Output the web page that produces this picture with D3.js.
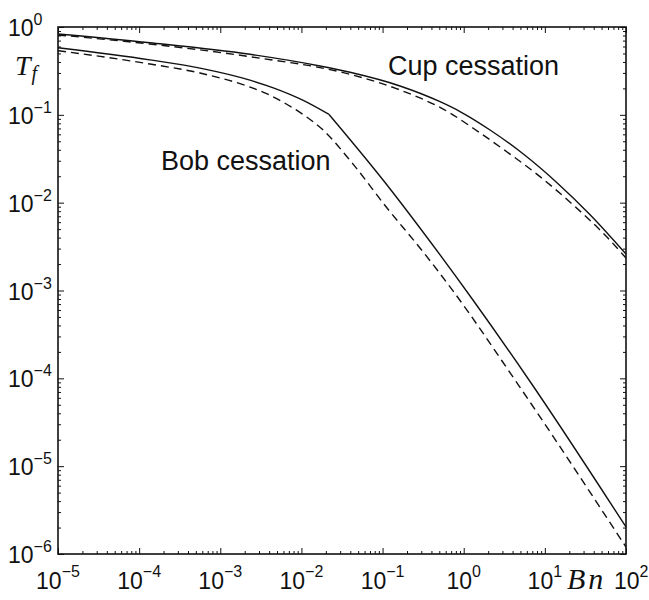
<!DOCTYPE html>
<html>
<head>
<meta charset="utf-8">
<script src="https://cdn.jsdelivr.net/npm/d3@7"></script>
<style>
  body { margin: 0; background: #fff; }
  svg { display: block; }
</style>
</head>
<body>
<div id="chart"></div>
<script>
// cessation time T_f against Bingham number, log-log
var width = 649;
var height = 600;

var xDecades = [1e-5, 1e-4, 1e-3, 1e-2, 1e-1, 1, 10, 100];
var yDecades = [1e-6, 1e-5, 1e-4, 1e-3, 1e-2, 1e-1, 1];

// Cup cessation
var cupSolidBn = [1e-5, 1.36e-4, 2.32e-3, 0.0169, 0.0397, 0.164, 0.511, 0.90, 2.11, 5.43, 14.0, 36.1, 100];
var cupSolidT  = [0.832, 0.662, 0.489, 0.360, 0.305, 0.213, 0.141, 0.109, 0.0672, 0.0358, 0.0170, 7.29e-3, 2.60e-3];
var cupDashBn  = [1e-5, 1.36e-4, 2.32e-3, 0.0397, 0.164, 0.678, 1.31, 3.39, 8.71, 22.4, 57.8, 100];
var cupDashT   = [0.811, 0.640, 0.459, 0.289, 0.192, 0.105, 0.0703, 0.038, 0.0198, 9.40e-3, 4.09e-3, 2.34e-3];

// Bob cessation (solid one has a kink at Bn ~ 0.022)
var bobSolidBn = [1e-5, 1.36e-4, 5.62e-4, 2.32e-3, 4.50e-3, 0.01054, 0.0219, 0.1135, 0.289, 1.30, 6.38, 100];
var bobSolidT  = [0.581, 0.423, 0.340, 0.248, 0.203, 0.146, 0.101, 0.0159, 5.15e-3, 7.80e-4, 9.57e-5, 2.03e-6];
var bobKink = 6;
var bobDashBn  = [1e-5, 1.36e-4, 5.62e-4, 2.32e-3, 3.73e-3, 6.59e-3, 0.01107, 0.0178, 0.0433, 0.1135, 0.289, 0.738, 4.29, 100];
var bobDashT   = [0.537, 0.379, 0.299, 0.207, 0.174, 0.132, 0.0975, 0.0693, 0.0275, 8.69e-3, 3.05e-3, 9.9e-4, 9.57e-5, 1.20e-6];

var margin = {left: 58, top: 27, right: 23, bottom: 46};
var iw = width - margin.left - margin.right;
var ih = height - margin.top - margin.bottom;

var x = d3.scaleLog().domain([1e-5, 100]).range([margin.left, margin.left + iw]);
var y = d3.scaleLog().domain([1e-6, 1]).range([margin.top + ih, margin.top]);

var svg = d3.select('#chart').append('svg')
  .attr('width', width)
  .attr('height', height)
  .style('background', '#fff');

var minorX = x.ticks().filter(d => xDecades.indexOf(d) < 0);
var minorY = y.ticks().filter(d => yDecades.indexOf(d) < 0);

function addAxis(gen, scale, vals, size, tx) {
  var g = svg.append('g')
    .attr('transform', tx)
    .call(gen(scale).tickValues(vals).tickSize(-size).tickFormat(''));
  g.select('.domain').remove();
  g.selectAll('line').attr('stroke', '#111').attr('stroke-width', 1);
}

var bottomT = `translate(0,${margin.top + ih})`;
var topT = `translate(0,${margin.top})`;
var leftT = `translate(${margin.left},0)`;
var rightT = `translate(${margin.left + iw},0)`;

addAxis(d3.axisBottom, x, minorX, 3, bottomT);
addAxis(d3.axisBottom, x, xDecades, 6, bottomT);
addAxis(d3.axisTop, x, minorX, 3, topT);
addAxis(d3.axisTop, x, xDecades, 6, topT);
addAxis(d3.axisLeft, y, minorY, 3, leftT);
addAxis(d3.axisLeft, y, yDecades, 6, leftT);
addAxis(d3.axisRight, y, minorY, 3, rightT);
addAxis(d3.axisRight, y, yDecades, 6, rightT);

svg.append('rect')
  .attr('x', margin.left)
  .attr('y', margin.top)
  .attr('width', iw)
  .attr('height', ih)
  .attr('fill', 'none')
  .attr('stroke', '#111')
  .attr('stroke-width', 1.6);

var sans = '"Liberation Sans", Arial, Helvetica, sans-serif';
var serif = '"Liberation Serif", "Times New Roman", serif';

function expText(v) {
  var e = Math.round(Math.log10(v));
  return e < 0 ? '\u2212' + (-e) : '' + e;
}

// x tick labels (the last one is pushed right, next to the Bn title)
var xl = svg.append('g').selectAll('text')
  .data(xDecades)
  .enter().append('text')
    .attr('x', d => d === 100 ? x(d) - 12 : x(d))
    .attr('y', margin.top + ih + 35)
    .attr('text-anchor', d => d === 100 ? 'start' : 'middle')
    .attr('font-family', sans)
    .attr('fill', '#111');
xl.append('tspan').attr('font-size', 23).text('10');
xl.append('tspan').attr('font-size', 16).attr('dy', -12).text(d => expText(d));

// y tick labels
var yl = svg.append('g').selectAll('text')
  .data(yDecades)
  .enter().append('text')
    .attr('x', 8)
    .attr('y', d => y(d) + 9)
    .attr('font-family', sans)
    .attr('fill', '#111');
yl.append('tspan').attr('font-size', 23).text('10');
yl.append('tspan').attr('font-size', 16).attr('dy', -11).text(d => expText(d));

// axis titles
var tf = svg.append('text')
  .attr('x', 15)
  .attr('y', 75)
  .attr('font-family', serif)
  .attr('font-style', 'italic')
  .attr('fill', '#111');
tf.append('tspan').attr('font-size', 28).text('T');
tf.append('tspan').attr('font-size', 20).attr('dy', 5).attr('dx', 1).text('f');

svg.append('text')
  .attr('x', 567)
  .attr('y', 589)
  .attr('font-family', serif)
  .attr('font-style', 'italic')
  .attr('font-size', 30)
  .attr('letter-spacing', 3)
  .attr('fill', '#111')
  .text('Bn');

// curves
var line = d3.line()
  .x(d => x(d[0]))
  .y(d => y(d[1]))
  .curve(d3.curveMonotoneX);

function pairs(bn, t) { return bn.map((b, i) => [b, t[i]]); }

var bobSolid = pairs(bobSolidBn, bobSolidT);
var paths = [
  {pts: pairs(cupSolidBn, cupSolidT), dash: null},
  {pts: pairs(cupDashBn, cupDashT), dash: '8,5'},
  {pts: bobSolid.slice(0, bobKink + 1), dash: null},
  {pts: bobSolid.slice(bobKink), dash: null},
  {pts: pairs(bobDashBn, bobDashT), dash: '8,5'}
];

svg.append('g').selectAll('path')
  .data(paths)
  .enter().append('path')
    .attr('d', d => line(d.pts))
    .attr('fill', 'none')
    .attr('stroke', '#111')
    .attr('stroke-width', 1.4)
    .attr('stroke-dasharray', d => d.dash);

// curve labels
svg.append('text')
  .attr('x', 388)
  .attr('y', 75)
  .attr('font-family', sans)
  .attr('font-size', 27)
  .attr('fill', '#111')
  .text('Cup cessation');

svg.append('text')
  .attr('x', 161)
  .attr('y', 170)
  .attr('font-family', sans)
  .attr('font-size', 27)
  .attr('fill', '#111')
  .text('Bob cessation');
</script>
</body>
</html>
